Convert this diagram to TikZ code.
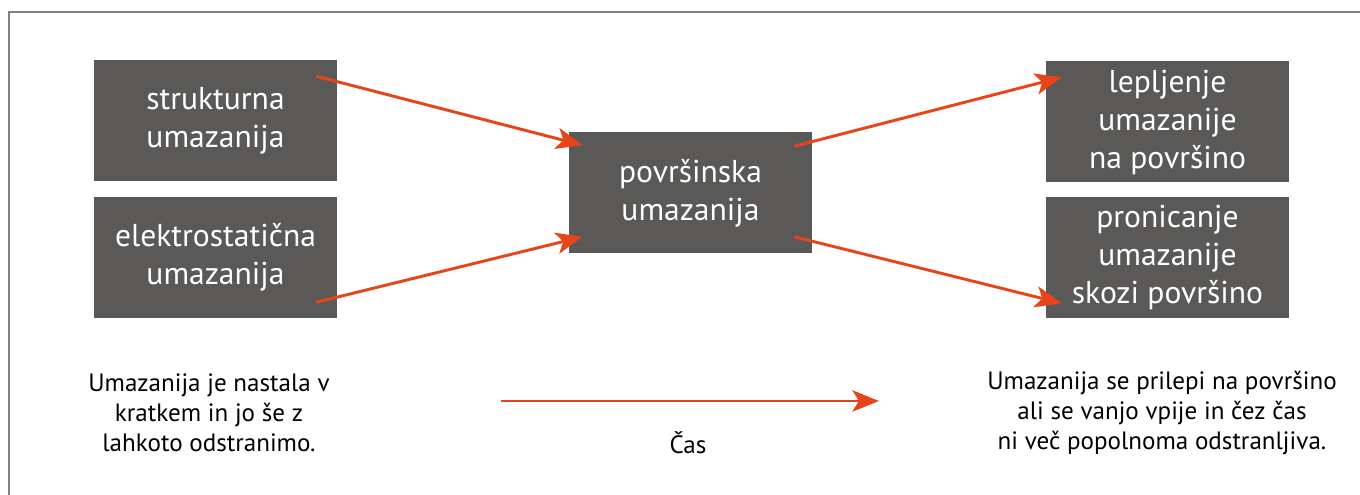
\documentclass[tikz,border=0pt]{standalone}
\usepackage{fontspec}
\setmainfont{PT Sans}
\usetikzlibrary{arrows.meta}
\definecolor{boxgray}{HTML}{5A5957}
\definecolor{arrowred}{HTML}{E8441A}
\definecolor{framegray}{HTML}{808080}
\tikzset{
  darkbox/.style={fill=boxgray, draw=none, text=white, minimum width=243*0.75pt, minimum height=121*0.75pt,
    align=center, inner sep=0pt, font=\fontsize{23.7}{28.5}\selectfont},
  flow/.style={draw=arrowred, line width=2.2pt, -{Stealth[length=20pt, width=16pt, inset=5pt]}},
  caption/.style={align=center, text=black, inner sep=0pt, font=\fontsize{18.8}{22.5}\selectfont}
}
\begin{document}
\begin{tikzpicture}[x=0.75pt,y=-0.75pt]
\useasboundingbox (0,0) rectangle (1360,495);
\draw[framegray, line width=1.2pt] (9,495) -- (9,12) -- (1360,12);
\node[darkbox] (s) at (215.5,121) {strukturna\\umazanija};
\node[darkbox] (e) at (215.5,257.5) {elektrostatična\\umazanija};
\node[darkbox] (p) at (690.5,193) {površinska\\umazanija};
\node[darkbox] (l) at (1167.5,122) {lepljenje\\umazanije\\na površino};
\node[darkbox] (r) at (1167.5,257.5) {pronicanje\\umazanije\\skozi površino};
\coordinate (s1) at ([shift={(-21,16)}]s.north east);
\coordinate (e1) at ([shift={(-21,-16)}]e.south east);
\coordinate (p1) at ([shift={(14,13)}]p.north west);
\coordinate (p2) at ([shift={(14,-17)}]p.south west);
\coordinate (p3) at ([shift={(-18,14)}]p.north east);
\coordinate (p4) at ([shift={(-18,-17)}]p.south east);
\coordinate (l1) at ([shift={(16,16)}]l.north west);
\coordinate (r1) at ([shift={(16,-15)}]r.south west);
\draw[flow] (s1) -- (p1);
\draw[flow] (e1) -- (p2);
\draw[flow] (p3) -- (l1);
\draw[flow] (p4) -- (r1);
\node[caption] (lt) at (209,413) {Umazanija je nastala v\\kratkem in jo še z\\lahkoto odstranimo.};
\node[caption] (rt) at (1162,413) {Umazanija se prilepi na površino\\ali se vanjo vpije in čez čas\\ni več popolnoma odstranljiva.};
\node[caption] (cas) at (688,443) {Čas};
\coordinate (t0) at (501,401);
\coordinate (t1) at (879,401);
\draw[flow] (t0) -- (t1);
\end{tikzpicture}
\end{document}
